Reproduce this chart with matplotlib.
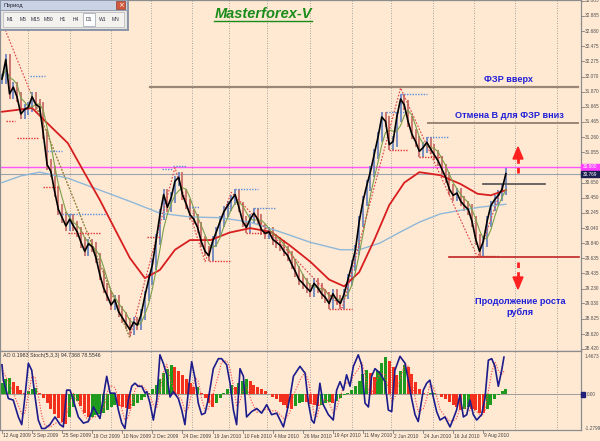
import numpy as np
import pandas as pd
import matplotlib
matplotlib.use("Agg")
import matplotlib.pyplot as plt
from matplotlib.patches import Rectangle, Polygon
from matplotlib.lines import Line2D

# ---------------- data ----------------
start_date = "2009-08-12"
holidays = ["2009-12-25", "2010-01-01"]
close_step = 2  # one close value every 2 trading days

closes = [32.04, 32.30, 31.84, 31.93, 31.80, 31.57, 31.63, 31.66, 31.80, 31.70,
          31.66, 31.30, 30.89, 30.80, 30.53, 30.29, 30.18, 30.07, 30.16, 30.07,
          29.99, 29.85, 29.73, 29.83, 29.79, 29.64, 29.42, 29.24, 29.13, 29.01,
          29.08, 28.92, 28.84, 28.76, 28.68, 28.78, 28.74, 28.88, 29.13, 29.35,
          29.55, 29.89, 30.22, 30.49, 30.32, 30.45, 30.67, 30.72, 30.49, 30.36,
          30.22, 30.16, 30.05, 29.86, 29.73, 29.67, 29.86, 29.99, 30.13, 30.26,
          30.34, 30.42, 30.49, 30.32, 30.13, 30.05, 30.16, 30.24, 30.16, 30.02,
          29.97, 29.99, 29.89, 29.85, 29.81, 29.73, 29.67, 29.56, 29.46, 29.35,
          29.30, 29.24, 29.19, 29.30, 29.24, 29.16, 29.11, 29.03, 29.16, 29.08,
          29.03, 29.16, 29.35, 29.54, 29.75, 30.13, 30.40, 30.61, 30.80, 31.03,
          31.26, 31.53, 31.47, 31.16, 31.20, 31.53, 31.77, 31.69, 31.47, 31.30,
          31.20, 31.07, 31.12, 31.19, 31.10, 31.02, 30.94, 30.83, 30.72, 30.56,
          30.48, 30.51, 30.40, 30.34, 30.29, 30.13, 29.89, 29.73, 29.86, 30.13,
          30.34, 30.42, 30.48, 30.56, 30.77]

ao_values = [0.40, 0.55, 0.60, 0.45, 0.30, 0.15, 0.02, 0.10, 0.20, 0.22,
             0.05, -0.15, -0.35, -0.55, -0.75, -0.92, -1.05, -1.12, -0.85, -0.50,
             -0.25, -0.45, -0.70, -0.88, -0.85, -0.80, -0.75, -0.70, -0.62, -0.50,
             -0.40, -0.45, -0.50, -0.53, -0.56, -0.45, -0.35, -0.22, -0.10, 0.05,
             0.20, 0.35, 0.55, 0.78, 0.95, 1.10, 1.00, 0.88, 0.72, 0.55,
             0.40, 0.25, 0.28, 0.05, -0.15, -0.35, -0.50, -0.35, -0.15, 0.05,
             0.20, 0.32, 0.28, 0.40, 0.48, 0.55, 0.50, 0.35, 0.28, 0.20,
             0.10, 0.00, -0.10, -0.20, -0.32, -0.42, -0.52, -0.58, -0.45, -0.35,
             -0.30, -0.32, -0.38, -0.42, -0.45, -0.40, -0.35, -0.30, -0.34, -0.25,
             -0.15, -0.05, 0.05, 0.15, 0.30, 0.50, 0.75, 0.90, 0.80, 0.65,
             0.85, 1.15, 1.40, 1.25, 1.00, 0.70, 0.85, 1.10, 1.00, 0.75,
             0.45, 0.20, 0.05, 0.00, 0.03, 0.05, 0.00, -0.10, -0.20, -0.30,
             -0.40, -0.50, -0.60, -0.55, -0.50, -0.55, -0.62, -0.70, -0.72, -0.55,
             -0.40, -0.20, -0.05, 0.10, 0.20]

ma_red_bar = [0, 16, 26, 35, 43, 52, 61, 68, 76, 84, 92, 100, 111, 121, 132,
              143, 153, 164, 174, 182, 190, 198, 206, 214, 222, 233, 244, 253, 260, 268]
ma_red_val = [31.60, 31.65, 31.40, 31.18, 30.82, 30.42, 29.98, 29.64, 29.37, 29.48,
              29.75, 29.88, 29.88, 29.98, 30.04, 29.99, 29.81, 29.59, 29.35, 29.26,
              29.45, 29.88, 30.35, 30.65, 30.79, 30.75, 30.63, 30.50, 30.48, 30.55]

ma_blue_bar = [0, 10, 20, 35, 52, 70, 84, 100, 116, 132, 148, 164, 180, 190,
               201, 212, 222, 233, 244, 254, 268]
ma_blue_val = [30.65, 30.74, 30.79, 30.71, 30.55, 30.38, 30.24, 30.19, 30.18, 30.12,
               29.99, 29.85, 29.75, 29.75, 29.84, 29.99, 30.12, 30.23, 30.28, 30.32, 30.36]

zz_red_bar = [-3, 68, 92, 108, 122, 181, 212, 253, 268]
zz_red_val = [32.99, 28.57, 30.85, 29.59, 30.52, 28.97, 31.92, 29.65, 30.74]
zz_green_bar = [15, 68]
zz_green_val = [31.87, 28.57]

frac_up_start = [15, 24, 32, 85, 91, 98, 124, 134, 204, 212, 226]
frac_up_end = [23, 32, 55, 91, 98, 105, 136, 146, 214, 226, 238]
frac_up_level = [32.08, 31.07, 30.23, 30.83, 30.87, 30.32, 30.56, 30.31, 31.60,
                 31.84, 31.26]
frac_dn_start = [2, 8, 22, 35, 77, 110, 130, 174, 206, 222, 254]
frac_dn_end = [7, 19, 30, 52, 84, 122, 142, 186, 216, 234, 264]
frac_dn_level = [31.48, 31.25, 30.59, 29.98, 29.92, 29.60, 29.98, 28.96, 31.09,
                 31.00, 29.66]

stoch_bar = [0, 0.7, 3.4, 6.0, 8.7, 10.5, 12.2, 14.0, 15.8, 17.6,
             19.3, 21.1, 22.9, 25.5, 28.2, 30.9, 32.6, 34.4, 36.2, 37.9,
             40.6, 43.3, 45.9, 48.6, 52.1, 54.8, 55.7, 57.5, 60.1, 61.9,
             63.7, 65.4, 67.2, 69.0, 70.7, 72.5, 74.3, 76.1, 77.0, 78.7,
             80.5, 82.3, 84.0, 85.8, 87.6, 89.4, 91.1, 93.8, 95.6, 97.3,
             99.1, 100.9, 102.7, 104.4, 106.2, 108.0, 109.8, 112.4, 115.1, 116.8,
             119.5, 121.3, 123.1, 124.8, 126.6, 128.4, 130.1, 132.8, 135.5, 138.1,
             140.8, 143.4, 146.1, 149.7, 151.4, 153.2, 155.0, 158.5, 161.2, 163.0,
             164.7, 166.0, 167.4, 169.1, 170.9, 173.6, 176.2, 178.0, 179.8, 181.6,
             183.3, 185.1, 186.9, 189.5, 191.3, 193.1, 194.9, 196.6, 198.4, 201.1,
             203.7, 205.5, 207.3, 209.0, 211.7, 214.4, 216.1, 217.9, 219.7, 221.4,
             224.1, 225.9, 227.6, 229.4, 231.2, 233.0, 235.6, 238.3, 240.1, 241.8,
             243.6, 245.4, 247.2, 248.9, 250.7, 252.5, 255.1, 256.9, 258.7, 260.5,
             262.2, 264.0, 265.8, 267.0]
stoch_val = [85, 65, 41, 39, 17, 7, 43, 87, 78, 43,
             13, 2, 2, 7, 17, 7, 4, 52, 52, 39,
             17, 9, 11, 30, 15, 57, 70, 48, 48, 26,
             9, 2, 39, 57, 61, 57, 57, 48, 50, 35,
             13, 39, 98, 87, 72, 43, 50, 41, 26, 7,
             50, 89, 67, 35, 20, 22, 41, 80, 93, 93,
             85, 61, 26, 7, 80, 70, 17, 24, 28, 22,
             33, 20, 22, 4, 22, 43, 70, 83, 74, 35,
             13, 9, 26, 61, 33, 20, 13, 52, 63, 52,
             72, 57, 83, 98, 85, 35, 30, 70, 80, 74,
             63, 26, 24, 78, 96, 87, 65, 41, 20, 11,
             52, 61, 65, 43, 24, 13, 17, 4, 15, 26,
             46, 17, 20, 39, 20, 13, 20, 41, 91, 93,
             83, 57, 78, 95]

level_up = 31.93          # "ФЗР вверх"
level_cancel = 31.445     # "Отмена В для ФЗР вниз"
level_down = 29.657       # red support
level_mid = 30.63         # short dark line
level_pink = 30.86
current_price = 30.769

price_ticks = [33.085, 32.885, 32.680, 32.475, 32.275, 32.070, 31.870, 31.665,
               31.465, 31.260, 31.055, 30.650, 30.450, 30.245, 30.040, 29.840,
               29.635, 29.435, 29.230, 29.030, 28.825, 28.620, 28.420]
ao_ticks = [1.4673, 0.00, -1.2799]
ao_label = "AO 0.1983 Stoch(5,3,3) 94.7368 78.5546"
periods = ["M1", "M5", "M15", "M30", "H1", "H4", "D1", "W1", "MN"]

# ---------------- layout ----------------
W, H = 600, 441
BG = "#ffe9d3"
PX, X0 = 1.88, 2.0            # pixels per bar, pixel of bar 0
P_TOP, P_BOT = 33.098, 28.393  # price range of main panel
FONT = "Liberation Sans"
fig = plt.figure(figsize=(W / 100, H / 100), dpi=100)
fig.patch.set_facecolor(BG)


def bx(px):
    return (px - X0) / PX


def fpx(px):
    return px / W


def fpy(py):
    return 1 - py / H


def py_of_price(p):
    return (P_TOP - p) / (P_TOP - P_BOT) * 351


def p_of(py):
    return P_TOP - py / 351 * (P_TOP - P_BOT)


ax = fig.add_axes([0, 1 - 351 / H, 581 / W, 351 / H])
ax2 = fig.add_axes([0, 1 - 430 / H, 581 / W, 79 / H])
for a in (ax, ax2):
    a.set_facecolor(BG)
    a.set_xlim(bx(0), bx(581))
    a.set_xticks([])
    a.set_yticks([])
    for s in a.spines.values():
        s.set_color("#8c8c8c")
        s.set_linewidth(0.9)
ax.set_ylim(P_BOT, P_TOP)
ax2.set_ylim(-1.354, 1.616)
ax3 = ax2.twinx()
ax3.set_ylim(0, 103)
ax3.set_yticks([])
ax3.set_xlim(bx(0), bx(581))
for s in ax3.spines.values():
    s.set_visible(False)

dates = pd.bdate_range(start_date, periods=330, freq="C", holidays=holidays)
idx = pd.Series(np.arange(len(dates)), index=dates)
month_first = idx.groupby([dates.year, dates.month]).first().values[1:]
month_first = [b for b in month_first if X0 + PX * b < 575]

for a in (ax, ax2):
    for b in month_first:
        a.axvline(b, color="#8a8a8a", lw=0.6, ls=(0, (1, 2)), zorder=0.5)

# ---------------- main panel ----------------
c = np.array(closes)
bars = np.arange(len(c)) * close_step
prev = np.r_[c[0], c[:-1]]
lo = np.minimum(prev, c) - 0.07
hi = np.maximum(prev, c) + 0.07
up = c >= prev
ax.vlines(bars[up], lo[up], hi[up], color="#6f86c0", lw=1.3, zorder=2)
ax.vlines(bars[~up], lo[~up], hi[~up], color="#c87068", lw=1.3, zorder=2)

ax.axhline(level_pink, color="#ff55ff", lw=1.0, zorder=1.5)
ax.axhline(current_price, color="#9aa4b0", lw=0.8, zorder=1.5)

ax.plot(ma_blue_bar, ma_blue_val, color="#8fb8d8", lw=1.0, zorder=3)
ax.plot(ma_red_bar, ma_red_val, color="#d81e1e", lw=1.3, zorder=3)
green = pd.Series(c).rolling(4, min_periods=1).mean()
ax.plot(bars, green, color="#7c9f4a", lw=0.8, zorder=3)
ax.plot(zz_red_bar, zz_red_val, color="#e04040", lw=0.8, ls=(0, (1.5, 1.5)), zorder=3)
ax.plot(zz_green_bar, zz_green_val, color="#70a040", lw=0.8, ls=(0, (1.5, 1.5)), zorder=3)

for s0, s1, lv in zip(frac_up_start, frac_up_end, frac_up_level):
    ax.plot([s0, s1], [lv, lv], color="#5c8ed8", lw=1.0, ls=(0, (1, 1)), zorder=3)
for s0, s1, lv in zip(frac_dn_start, frac_dn_end, frac_dn_level):
    ax.plot([s0, s1], [lv, lv], color="#e03030", lw=1.0, ls=(0, (1, 1)), zorder=3)

ax.plot(bars, c, color="black", lw=1.2, zorder=4)

# level lines
ax.plot([bx(150), bx(578)], [level_up, level_up], color="#9a8676", lw=1.6, zorder=3)
ax.plot([bx(428), bx(578)], [level_cancel, level_cancel], color="#9a8676", lw=1.4, zorder=3)
ax.plot([bx(449), bx(579)], [level_down, level_down], color="#c02424", lw=1.2, zorder=3)
ax.plot([bx(483), bx(545)], [level_mid, level_mid], color="#505050", lw=1.2, zorder=3)

# arrows
arr_x = bx(518)
ax.plot([arr_x, arr_x], [p_of(173), p_of(158)], color="#ff2020", lw=2.0, ls=(0, (2, 1.5)), zorder=5)
ax.add_patch(Polygon([[bx(513), p_of(159)], [bx(523), p_of(159)], [arr_x, p_of(147)]],
                     closed=True, color="#ff2020", zorder=5))
ax.plot([arr_x, arr_x], [p_of(262), p_of(277)], color="#ff2020", lw=2.0, ls=(0, (2, 1.5)), zorder=5)
ax.add_patch(Polygon([[bx(513), p_of(277)], [bx(523), p_of(277)], [arr_x, p_of(289)]],
                     closed=True, color="#ff2020", zorder=5))

# annotations
tkw = dict(color="#2020d8", fontsize=6.6, fontweight="bold", family=FONT,
           ha="center", va="center")
fig.text(fpx(508), fpy(79), "ФЗР вверх", **tkw)
fig.text(fpx(509), fpy(116), "Отмена В для ФЗР вниз", **tkw)
fig.text(fpx(520), fpy(301), "Продолжение роста", **tkw)
fig.text(fpx(520), fpy(312), "рубля", **tkw)

t = fig.text(fpx(263), fpy(14), "Masterforex-V", color="#1a8c1a", fontsize=10.5,
             fontweight="bold", fontstyle="italic", family=FONT,
             ha="center", va="center")

# ---------------- lower panel ----------------
ao = np.array(ao_values)
ao_prev = np.r_[ao[0] - 1, ao[:-1]]
cols = np.where(ao >= ao_prev, "#1f9a1f", "#f2301c")
ax2.bar(bars, ao, width=1.6, color=cols, zorder=2)
ax2.axhline(0, color="#909090", lw=0.6, zorder=1)
sig = pd.Series(stoch_val).rolling(3, min_periods=1).mean()
ax3.plot(stoch_bar, sig, color="#ff4040", lw=0.8, ls=(0, (1, 1.5)), zorder=3)
ax3.plot(stoch_bar, stoch_val, color="#1c1c8c", lw=1.2, zorder=4)
fig.text(fpx(3), fpy(355), ao_label, fontsize=3.8, family=FONT, color="#303030",
         va="center", ha="left")

# ---------------- right axis labels ----------------
lab = dict(fontsize=3.4, family=FONT, color="#505050", va="center", ha="left")
for p in price_ticks:
    yy = py_of_price(p)
    fig.text(fpx(585), fpy(yy), f"{p:.3f}", **lab)
    fig.add_artist(Line2D([fpx(581), fpx(584)], [fpy(yy)] * 2, color="#808080", lw=0.6))
ao_py = {1.4673: 356, 0.00: 394, -1.2799: 428}
for v in ao_ticks:
    txt = "0.00" if v == 0 else f"{v:.4f}"
    fig.text(fpx(587 if v == 0 else 585), fpy(ao_py[v]), txt, **lab)
fig.add_artist(Rectangle((fpx(581), fpy(397)), 4 / W, 5 / H, transform=fig.transFigure,
                         color="#20207a", zorder=10))
# price boxes
fig.add_artist(Rectangle((fpx(581), fpy(170)), 19 / W, 6 / H,
                         transform=fig.transFigure, color="#ff40ff", zorder=10))
fig.text(fpx(583), fpy(167), f"{level_pink:.3f}", fontsize=3.4, family=FONT, color="white",
         va="center", ha="left", zorder=11)
fig.add_artist(Rectangle((fpx(581), fpy(177)), 19 / W, 6 / H,
                         transform=fig.transFigure, color="#1c2050", zorder=10))
fig.text(fpx(583), fpy(174), f"{current_price:.3f}", fontsize=3.4, family=FONT, color="white",
         va="center", ha="left", zorder=11)

# ---------------- date labels ----------------
for b in range(0, 257, 16):
    d = dates[b]
    xx = X0 + PX * b
    fig.text(fpx(xx + 1), fpy(436), f"{d.day} {d:%b %Y}", fontsize=3.5, family=FONT,
             color="#404040", va="center", ha="left")
    fig.add_artist(Line2D([fpx(xx)] * 2, [fpy(430), fpy(433)], color="#808080", lw=0.6))

# ---------------- period toolbar ----------------
def frect(x0, y0, w, h, **kw):
    fig.add_artist(Rectangle((fpx(x0), fpy(y0 + h)), w / W, h / H,
                             transform=fig.transFigure, **kw))

frect(1, 1, 128, 30, facecolor="#9098a8", edgecolor="none", zorder=20)
frect(0, 0, 127, 29, facecolor="#ebe8e4", edgecolor="#8a94a8", lw=0.8, zorder=21)
frect(0, 0, 127, 10, facecolor="#c9d3e3", edgecolor="#8a94a8", lw=0.6, zorder=22)
fig.text(fpx(3), fpy(5), "Период", fontsize=4.0, family=FONT, color="#202030",
         va="center", ha="left", zorder=23)
frect(116, 1.5, 9, 7, facecolor="#d0583c", edgecolor="#904030", lw=0.5, zorder=23)
fig.text(fpx(120.5), fpy(5), "×", fontsize=5, color="white", va="center", ha="center", zorder=24)
frect(3, 12, 121, 15, facecolor="#f4f2ee", edgecolor="#b0b4bc", lw=0.5, zorder=22)
bxs = [10, 23, 35, 49, 63, 76, 89, 103, 115]
for name, xx in zip(periods, bxs):
    if name == "D1":
        frect(xx - 6, 13.5, 12, 12, facecolor="#ffffff", edgecolor="#9aa0b0", lw=0.5, zorder=23)
    fig.text(fpx(xx), fpy(19.5), name, fontsize=3.6, family=FONT, color="#303040",
             va="center", ha="center", zorder=24)

fig.canvas.draw()
bb = t.get_window_extent()
fig.add_artist(Line2D([bb.x0 / W, bb.x1 / W], [(bb.y0 + 0.5) / H] * 2, color="#1a8c1a", lw=1.0))

fig.savefig("out.png", dpi=100, facecolor=BG)
